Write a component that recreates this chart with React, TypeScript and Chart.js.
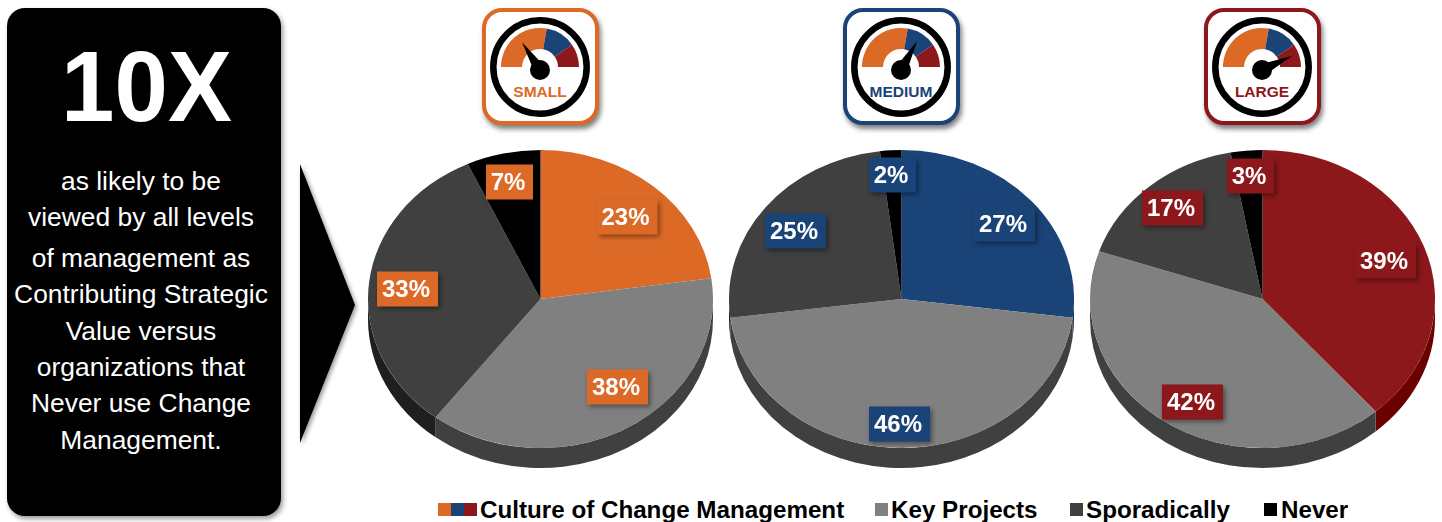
import React, { useEffect, useRef } from "react";
import { Chart, registerables } from "chart.js";

Chart.register(...registerables);

const categories = ["Culture of Change Management", "Key Projects", "Sporadically", "Never"];
const smallValues = [23, 38, 33, 7];
const mediumValues = [27, 46, 25, 2];
const largeValues = [39, 42, 17, 3];
const panelLines = [
  "as likely to be",
  "viewed by all levels",
  "of management as",
  "Contributing Strategic",
  "Value versus",
  "organizations that",
  "Never use Change",
  "Management.",
];

const ORANGE = "#DC6A26";
const BLUE = "#1A4378";
const RED = "#8C181B";
const GRAY = "#808080";
const DARK = "#404040";
const BLACK = "#000000";
const FONT = '"Liberation Sans", Arial, sans-serif';

const panelLineY = [181, 217, 258, 294, 331, 367, 403, 440];
const SQUASH = 298 / 345;
const DEPTH = 20 / SQUASH;

type PieSpec = {
  name: string;
  values: number[];
  color: string;
  sideColor: string;
  left: number;
  iconX: number;
  needle: number;
  labelOffsets: number[][];
};

const pies: PieSpec[] = [
  {
    name: "SMALL",
    values: smallValues,
    color: ORANGE,
    sideColor: "#A04E1C",
    left: 368,
    iconX: 540,
    needle: 123,
    labelOffsets: [[86.5, -82], [77, 88], [-133, -10], [-31, -117]],
  },
  {
    name: "MEDIUM",
    values: mediumValues,
    color: BLUE,
    sideColor: "#0F2B4F",
    left: 729,
    iconX: 901,
    needle: 61,
    labelOffsets: [[103, -75], [-2, 125], [-106, -68], [-9, -124]],
  },
  {
    name: "LARGE",
    values: largeValues,
    color: RED,
    sideColor: "#6B0000",
    left: 1090,
    iconX: 1262,
    needle: 25,
    labelOffsets: [[123, -38], [-70, 103], [-90, -91], [-12, -123]],
  },
];

const sectorSide = (ctx: CanvasRenderingContext2D, arc: any, color: string) => {
  const a0 = Math.max(arc.startAngle, 0);
  const a1 = Math.min(arc.endAngle, Math.PI);
  if (a1 <= a0) return;
  ctx.beginPath();
  ctx.arc(arc.x, arc.y, arc.outerRadius, a0, a1);
  ctx.arc(arc.x, arc.y + DEPTH, arc.outerRadius, a1, a0, true);
  ctx.closePath();
  ctx.fillStyle = color;
  ctx.fill();
};

function PieChart({ spec }: { spec: PieSpec }) {
  const ref = useRef<HTMLCanvasElement>(null);
  useEffect(() => {
    const sideColors = [spec.sideColor, DARK, "#1E2020", "#111111"];
    const tilt = {
      id: "tilt",
      beforeDatasetsDraw(chart: any) {
        const ctx = chart.ctx;
        ctx.save();
        ctx.scale(1, SQUASH);
        chart.getDatasetMeta(0).data.forEach((arc: any, i: number) => sectorSide(ctx, arc, sideColors[i]));
      },
      afterDatasetsDraw(chart: any) {
        chart.ctx.restore();
      },
      afterDraw(chart: any) {
        const ctx = chart.ctx;
        const first = chart.getDatasetMeta(0).data[0];
        const cx = first.x;
        const cy = first.y * SQUASH;
        spec.values.forEach((v, i) => {
          const text = `${v}%`;
          const [dx, dy] = spec.labelOffsets[i];
          const w = text.length > 2 ? 61 : 47;
          const h = 35;
          ctx.save();
          ctx.shadowColor = "rgba(0,0,0,0.45)";
          ctx.shadowBlur = 5;
          ctx.shadowOffsetX = 2;
          ctx.shadowOffsetY = 2;
          ctx.fillStyle = spec.color;
          ctx.fillRect(cx + dx - w / 2, cy + dy - h / 2, w, h);
          ctx.restore();
          ctx.save();
          ctx.fillStyle = "#FFFFFF";
          ctx.font = `bold 24px ${FONT}`;
          ctx.textAlign = "center";
          ctx.textBaseline = "middle";
          ctx.fillText(text, cx + dx - 1.5, cy + dy + 1);
          ctx.restore();
        });
      },
    };
    const chart = new Chart(ref.current as HTMLCanvasElement, {
      type: "pie",
      data: {
        labels: categories,
        datasets: [
          {
            data: spec.values,
            backgroundColor: [spec.color, GRAY, DARK, BLACK],
            borderWidth: 0,
            clip: false,
          } as any,
        ],
      },
      options: {
        responsive: false,
        animation: false,
        layout: { padding: 0 },
        plugins: { legend: { display: false }, tooltip: { enabled: false } },
      },
      plugins: [tilt],
    } as any);
    return () => chart.destroy();
  }, [spec]);
  return (
    <canvas
      ref={ref}
      width={345}
      height={345}
      style={{ position: "absolute", left: spec.left, top: 150, width: 345, height: 345 }}
    />
  );
}

const polar = (cx: number, cy: number, r: number, deg: number) => {
  const a = (deg * Math.PI) / 180;
  return [cx + r * Math.cos(a), cy - r * Math.sin(a)];
};

const band = (cx: number, cy: number, ro: number, ri: number, from: number, to: number) => {
  const [x1, y1] = polar(cx, cy, ro, from);
  const [x2, y2] = polar(cx, cy, ro, to);
  const [x3, y3] = polar(cx, cy, ri, to);
  const [x4, y4] = polar(cx, cy, ri, from);
  return `M${x1} ${y1}A${ro} ${ro} 0 0 1 ${x2} ${y2}L${x3} ${y3}A${ri} ${ri} 0 0 0 ${x4} ${y4}Z`;
};

function Gauge({ spec }: { spec: PieSpec }) {
  const cx = 60;
  const cy = 61;
  const hubY = 64;
  const [tx, ty] = polar(cx, hubY, 33, spec.needle);
  const [b1x, b1y] = polar(cx, hubY, 6, spec.needle + 90);
  const [b2x, b2y] = polar(cx, hubY, 6, spec.needle - 90);
  return (
    <div
      style={{
        position: "absolute",
        left: spec.iconX - 58.5,
        top: 8,
        width: 117,
        height: 117,
        boxSizing: "border-box",
        border: `4.5px solid ${spec.color}`,
        borderRadius: 20,
        background: "#fff",
        boxShadow: "2px 4px 5px rgba(0,0,0,0.5)",
      }}
    >
      <svg width={120} height={120} style={{ position: "absolute", left: -6, top: -6.5 }}>
        <circle cx={cx} cy={cy} r={46.7} fill="none" stroke="#000" strokeWidth={6.5} />
        <path d={band(cx, cy, 39, 18, 180, 80)} fill={ORANGE} />
        <path d={band(cx, cy, 39, 18, 80, 35)} fill={BLUE} />
        <path d={band(cx, cy, 39, 18, 35, 0)} fill={RED} />
        <polygon points={`${tx},${ty} ${b1x},${b1y} ${b2x},${b2y}`} fill="#000" />
        <circle cx={cx} cy={hubY} r={10} fill="#000" />
        <text x={cx} y={91} textAnchor="middle" fontFamily={FONT} fontWeight="bold" fontSize={15.5} fill={spec.color}>
          {spec.name}
        </text>
      </svg>
    </div>
  );
}

const legendItems = [
  { swatches: [ORANGE, BLUE, RED], x: 438, textX: 480 },
  { swatches: [GRAY], x: 875, textX: 891 },
  { swatches: [DARK], x: 1070, textX: 1086 },
  { swatches: [BLACK], x: 1264, textX: 1281 },
];

export default function App() {
  return (
    <div
      style={{
        position: "absolute",
        left: 0,
        top: 0,
        width: 1442,
        height: 522,
        overflow: "hidden",
        background: "#fff",
        fontFamily: FONT,
      }}
    >
      <div
        style={{
          position: "absolute",
          left: 7,
          top: 8,
          width: 274,
          height: 507.5,
          borderRadius: 18,
          background: "#000",
          boxShadow: "2px 3px 5px rgba(0,0,0,0.4)",
        }}
      />
      <div
        style={{
          position: "absolute",
          left: 10,
          width: 273,
          top: 31,
          textAlign: "center",
          color: "#fff",
          fontWeight: "bold",
          fontSize: 96,
          lineHeight: "112px",
          transform: "scaleY(1.04)",
        }}
      >
        10X
      </div>
      {panelLines.map((line, i) => (
        <div
          key={line}
          style={{
            position: "absolute",
            left: 0,
            width: 282,
            top: panelLineY[i] - 18,
            height: 36,
            lineHeight: "36px",
            textAlign: "center",
            color: "#fff",
            fontSize: 26.4,
            whiteSpace: "nowrap",
          }}
        >
          {line}
        </div>
      ))}
      <svg
        width={70}
        height={300}
        style={{ position: "absolute", left: 295, top: 155, filter: "drop-shadow(2px 2px 2px rgba(0,0,0,0.4))" }}
      >
        <polygon points="5,9 60,150 5,288" fill="#000" />
      </svg>
      {pies.map((p) => (
        <React.Fragment key={p.name}>
          <PieChart spec={p} />
          <Gauge spec={p} />
        </React.Fragment>
      ))}
      {categories.map((c, i) => (
        <React.Fragment key={c}>
          {legendItems[i].swatches.map((s, j) => (
            <div
              key={s}
              style={{
                position: "absolute",
                left: legendItems[i].x + j * 13,
                top: 503,
                width: 13,
                height: 13,
                background: s,
              }}
            />
          ))}
          <div
            style={{
              position: "absolute",
              left: legendItems[i].textX,
              top: 495,
              height: 30,
              lineHeight: "30px",
              fontWeight: "bold",
              fontSize: 24.2,
              whiteSpace: "nowrap",
              color: "#000",
            }}
          >
            {c}
          </div>
        </React.Fragment>
      ))}
    </div>
  );
}
